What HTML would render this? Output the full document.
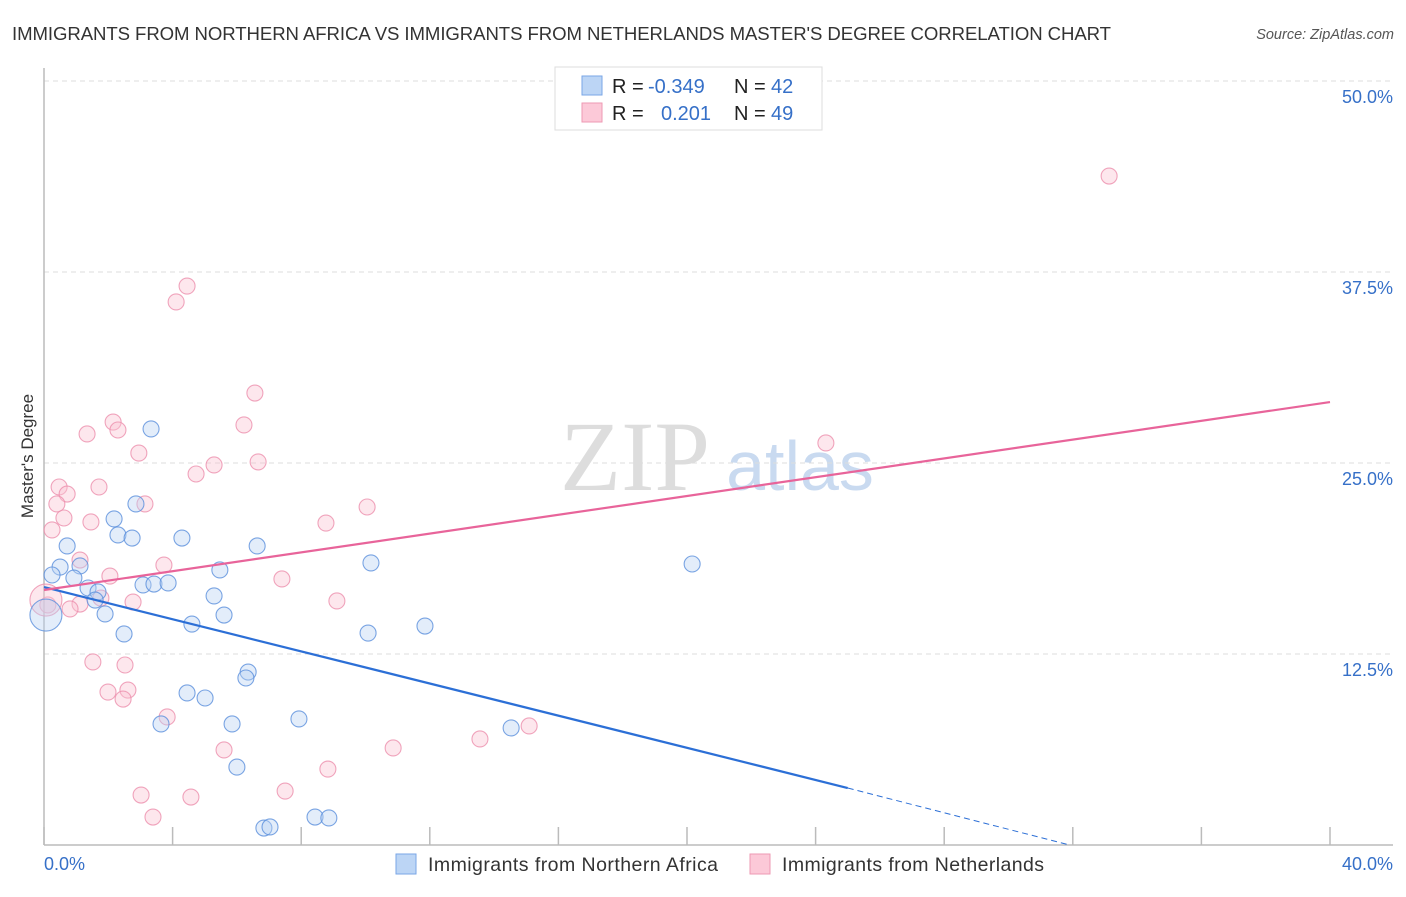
<!DOCTYPE html>
<html><head><meta charset="utf-8"><style>
body{margin:0;background:#fff;font-family:"Liberation Sans",sans-serif}
</style></head><body>
<svg width="1406" height="892" xmlns="http://www.w3.org/2000/svg" id="svg">
<text x="12" y="40" font-size="18.6" fill="#333" textLength="1099">IMMIGRANTS FROM NORTHERN AFRICA VS IMMIGRANTS FROM NETHERLANDS MASTER'S DEGREE CORRELATION CHART</text>
<text x="1394" y="39" font-size="14.5" fill="#555" font-style="italic" text-anchor="end">Source: ZipAtlas.com</text>
<text transform="translate(33,456) rotate(-90)" font-size="17" fill="#333" text-anchor="middle">Master's Degree</text>
<g><text x="635" y="490" font-size="100" fill="#ddd" font-family="Liberation Serif" text-anchor="middle">ZIP</text><text x="800" y="490" font-size="70" fill="#c9daf0" text-anchor="middle">atlas</text></g>
<g id="grid"></g><g id="axes"></g><g id="pts"></g><g id="lines"></g>
<g>
<rect x="555" y="67" width="267" height="63" fill="#fff" stroke="#ddd"/>
<rect x="582" y="76" width="20" height="19" fill="#bcd5f5" stroke="#7aa6e6"/>
<rect x="582" y="103" width="20" height="19" fill="#fcc9d8" stroke="#ee99b3"/>
<text x="612" y="93" font-size="20" fill="#222">R = <tspan x="648" fill="#3670c8">-0.349</tspan><tspan x="734">N = </tspan><tspan x="771" fill="#3670c8">42</tspan></text>
<text x="612" y="120" font-size="20" fill="#222">R = <tspan x="661" fill="#3670c8">0.201</tspan><tspan x="734">N = </tspan><tspan x="771" fill="#3670c8">49</tspan></text>
</g>
<g>
<rect x="396" y="854" width="20" height="20" fill="#bcd5f5" stroke="#7aa6e6"/>
<text x="428" y="871" font-size="19.5" fill="#333" textLength="290">Immigrants from Northern Africa</text>
<rect x="750" y="854" width="20" height="20" fill="#fcc9d8" stroke="#ee99b3"/>
<text x="782" y="871" font-size="19.5" fill="#333" textLength="262">Immigrants from Netherlands</text>
</g>
</svg>
<script>
const blueX=[3.33,2.86,2.18,2.30,2.74,0.72,4.29,6.63,0.50,1.12,0.93,5.47,10.17,20.16,1.37,3.08,3.42,3.86,1.68,5.29,1.59,1.90,5.60,4.60,2.49,10.08,11.85,6.35,6.28,4.45,5.01,5.85,3.64,7.93,14.53,6.00,6.84,7.03,8.43,8.86,0.25,0.06];
const blueY=[27.23,22.32,21.34,20.29,20.09,19.57,20.09,19.57,18.19,18.26,17.47,18.0,18.46,18.39,16.82,17.02,17.08,17.15,16.56,16.30,16.03,15.12,15.05,14.46,13.81,13.87,14.33,11.32,10.93,9.95,9.62,7.92,7.92,8.25,7.66,5.10,1.11,1.18,1.83,1.77,17.67,15.05];
const pinkX=[33.13,4.45,4.11,6.56,2.15,6.22,2.30,1.34,24.32,2.95,5.29,6.66,4.73,0.47,1.71,0.72,3.14,0.40,10.05,0.62,1.46,8.77,0.25,1.12,3.73,2.05,7.40,9.11,1.77,2.77,1.12,0.81,0.12,1.52,2.52,1.99,2.61,2.46,3.83,5.60,10.86,13.56,15.09,8.83,7.50,3.02,4.57,3.39,0.06];
const pinkY=[43.78,36.58,35.54,29.58,27.68,27.49,27.16,26.90,26.31,25.65,24.87,25.07,24.28,23.43,23.43,22.97,22.32,22.32,22.12,21.40,21.14,21.07,20.62,18.65,18.32,17.60,17.41,15.97,16.16,15.90,15.77,15.45,15.71,11.98,11.78,10.01,10.14,9.55,8.38,6.22,6.35,6.94,7.79,4.97,3.53,3.27,3.14,1.83,16.03];
const yTicks=[12.5,25,37.5,50];
const xTickVals=[0,4,8,12,16,20,24,28,32,36,40];
const blueTrend=[[0,16.88],[25,3.73],[31.9,0]];
const pinkTrend=[[0,16.69],[40,28.99]];
const X=v=>44+v*32.15, Y=v=>845-v*15.28;
const NS='http://www.w3.org/2000/svg';
function mk(p,t,a){const e=document.createElementNS(NS,t);for(const k in a)e.setAttribute(k,a[k]);document.getElementById(p).appendChild(e);return e;}
yTicks.forEach(v=>{
 const l=mk('grid','line',{x1:44,x2:1393,y1:Y(v),y2:Y(v),stroke:'#ddd','stroke-dasharray':'5,4'});
 
 
 const t=mk('grid','text',{x:1393,y:Y(v)+22,'font-size':18,fill:'#3670c8','text-anchor':'end'});
 t.textContent=v.toFixed(1)+'%';
 
 
});
let ax=mk('axes','line',{x1:44,x2:44,y1:68,y2:845,stroke:'#bbb','stroke-width':1.5});


ax=mk('axes','line',{x1:44,x2:1393,y1:845,y2:845,stroke:'#bbb','stroke-width':1.5});


xTickVals.forEach(v=>{
 const l=mk('axes','line',{x1:X(v),x2:X(v),y1:827,y2:845,stroke:'#bbb','stroke-width':1.5});
 
 
});
[[0,'0.0%','start',44],[40,'40.0%','end',1393]].forEach(d=>{
 const t=mk('axes','text',{x:d[3],y:870,'font-size':18,fill:'#3670c8','text-anchor':d[2]});
 t.textContent=d[1];
 
 
});
function pts(xs,ys,fill,stroke,name){xs.forEach((x,i)=>{
 const big=(x<0.1);
 const c=mk('pts','circle',{cx:X(x),cy:Y(ys[i]),r:big?16:8,fill:fill,'fill-opacity':0.4,stroke:stroke,'stroke-opacity':0.8,'stroke-width':1.1});
 
 
});}
pts(pinkX,pinkY,'#fbc4d3','#ec8fac','pink-point');
pts(blueX,blueY,'#b9d2f3','#5a8fdc','blue-point');
let l=mk('lines','line',{x1:X(blueTrend[0][0]),y1:Y(blueTrend[0][1]),x2:X(blueTrend[1][0]),y2:Y(blueTrend[1][1]),stroke:'#2c6fd6','stroke-width':2.2});


l=mk('lines','line',{x1:X(blueTrend[1][0]),y1:Y(blueTrend[1][1]),x2:X(blueTrend[2][0]),y2:Y(blueTrend[2][1]),stroke:'#2c6fd6','stroke-width':1,'stroke-dasharray':'6,4'});


l=mk('lines','line',{x1:X(pinkTrend[0][0]),y1:Y(pinkTrend[0][1]),x2:X(pinkTrend[1][0]),y2:Y(pinkTrend[1][1]),stroke:'#e8649a','stroke-width':2.2});


</script>
</body></html>
